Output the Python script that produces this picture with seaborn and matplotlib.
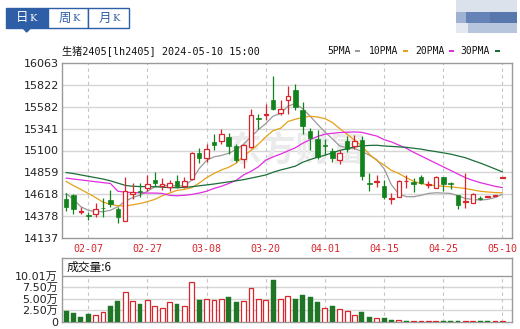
import numpy as np
import pandas as pd
import seaborn as sns
import matplotlib.pyplot as plt
from matplotlib.patches import Rectangle, Polygon

# 日K 数据 (lh2405, 2024-02-02 ~ 2024-05-10)
dates = ['02-02', '02-05', '02-06', '02-07', '02-08', '02-19', '02-20', '02-21', '02-22', '02-23',
         '02-26', '02-27', '02-28', '02-29', '03-01', '03-04', '03-05', '03-06', '03-07', '03-08',
         '03-11', '03-12', '03-13', '03-14', '03-15', '03-18', '03-19', '03-20', '03-21', '03-22',
         '03-25', '03-26', '03-27', '03-28', '03-29', '04-01', '04-02', '04-03', '04-08', '04-09',
         '04-10', '04-11', '04-12', '04-15', '04-16', '04-17', '04-18', '04-19', '04-22', '04-23',
         '04-24', '04-25', '04-26', '04-29', '04-30', '05-06', '05-07', '05-08', '05-09', '05-10']
open_ = [14563, 14607, 14422, 14387, 14398, 14465, 14552, 14453, 14321, 14618,
         14655, 14688, 14773, 14710, 14699, 14765, 14710, 14784, 15067, 15019,
         15191, 15202, 15250, 15147, 15011, 15140, 15460, 15489, 15654, 15515,
         15662, 15765, 15551, 15313, 15232, 15166, 15092, 14993, 15202, 15147,
         15221, 14743, 14751, 14706, 14565, 14589, 14758, 14754, 14809, 14722,
         14688, 14802, 14736, 14607, 14530, 14523, 14574, 14590, 14600, 14800]
high = [14633, 14615, 14479, 14424, 14523, 14570, 14662, 14479, 14802, 14736,
        14743, 14824, 14868, 14791, 14773, 14828, 14809, 15085, 15133, 15177,
        15287, 15342, 15294, 15169, 15177, 15563, 15507, 15618, 15925, 15654,
        15809, 15831, 15636, 15353, 15331, 15232, 15133, 15111, 15265, 15269,
        15258, 14846, 14828, 14773, 14626, 14773, 14828, 14791, 14828, 14765,
        14817, 14809, 14754, 14607, 14846, 14626, 14596, 14600, 14607, 14806]
low = [14435, 14394, 14398, 14332, 14368, 14362, 14479, 14295, 14321, 14560,
       14581, 14655, 14706, 14662, 14655, 14681, 14681, 14773, 14964, 14975,
       15103, 15177, 15059, 14975, 14909, 15133, 15342, 15441, 15544, 15489,
       15507, 15544, 15287, 15111, 15011, 15048, 14975, 14949, 15085, 15121,
       14773, 14655, 14699, 14560, 14504, 14581, 14688, 14637, 14729, 14688,
       14681, 14651, 14670, 14449, 14460, 14515, 14552, 14590, 14600, 14800]
close = [14479, 14449, 14428, 14376, 14453, 14460, 14504, 14368, 14655, 14637,
         14637, 14729, 14743, 14732, 14743, 14710, 14765, 15067, 15019, 15122,
         15166, 15287, 15147, 15000, 15158, 15496, 15449, 15507, 15555, 15563,
         15698, 15581, 15368, 15239, 15030, 15147, 15019, 15067, 15114, 15206,
         14817, 14732, 14762, 14581, 14575, 14762, 14765, 14725, 14736, 14729,
         14802, 14729, 14725, 14497, 14537, 14615, 14567, 14596, 14607, 14806]

# 成交量 (万手) 及颜色
volume = [2.29, 1.93, 1.00, 1.64, 1.43, 2.07, 3.36, 4.43, 6.36, 4.43,
          3.79, 4.64, 3.36, 2.93, 4.36, 3.79, 3.36, 8.71, 4.64, 4.86,
          4.64, 4.86, 5.29, 4.21, 4.43, 7.21, 4.86, 4.64, 8.93, 5.00,
          5.50, 4.86, 5.71, 5.29, 4.21, 2.93, 3.36, 2.71, 2.29, 1.43,
          2.07, 1.00, 0.79, 0.79, 0.43, 0.36, 0.15, 0.15, 0.15, 0.12,
          0.15, 0.15, 0.12, 0.15, 0.15, 0.15, 0.12, 0.10, 0.10, 0.15]
vol_dir = ['d', 'd', 'd', 'd', 'u', 'u', 'd', 'd', 'u', 'u',
           'd', 'u', 'u', 'u', 'u', 'd', 'u', 'u', 'd', 'u',
           'u', 'u', 'd', 'd', 'u', 'u', 'u', 'u', 'd', 'u',
           'u', 'd', 'd', 'd', 'd', 'u', 'd', 'u', 'u', 'u',
           'd', 'd', 'u', 'd', 'd', 'u', 'd', 'u', 'u', 'u',
           'u', 'd', 'd', 'd', 'u', 'u', 'd', 'd', 'u', 'u']

# 均线 (读自图中)
ma5 = [14626, 14560, 14479, 14440, 14424, 14424, 14440, 14479, 14540, 14580,
       14607, 14650, 14699, 14710, 14717, 14706, 14710, 14773, 14900, 14990,
       15030, 15045, 15070, 15110, 15169, 15250, 15330, 15397, 15480, 15507,
       15590, 15618, 15560, 15480, 15390, 15305, 15230, 15150, 15130, 15122,
       15090, 15048, 15000, 14900, 14720, 14620, 14590, 14589, 14605, 14626,
       14633, 14630, 14626, 14600, 14570, 14560, 14552, 14560, 14580, 14618]
ma10 = [14760, 14712, 14670, 14626, 14580, 14530, 14505, 14490, 14486, 14500,
        14515, 14535, 14560, 14600, 14630, 14660, 14670, 14690, 14740, 14800,
        14846, 14885, 14915, 14960, 15040, 15100, 15170, 15250, 15320, 15345,
        15420, 15445, 15465, 15478, 15470, 15452, 15410, 15342, 15280, 15215,
        15150, 15060, 14990, 14940, 14880, 14846, 14800, 14760, 14735, 14720,
        14712, 14705, 14699, 14690, 14680, 14665, 14650, 14642, 14636, 14633]
ma20 = [14795, 14785, 14775, 14765, 14755, 14745, 14736, 14650, 14640, 14635,
        14633, 14630, 14630, 14626, 14605, 14600, 14605, 14615, 14630, 14650,
        14681, 14705, 14736, 14770, 14830, 14870, 14920, 14993, 15030, 15060,
        15095, 15130, 15180, 15220, 15255, 15280, 15290, 15298, 15302, 15305,
        15300, 15280, 15260, 15220, 15195, 15160, 15125, 15080, 15040, 15000,
        14960, 14920, 14880, 14840, 14800, 14770, 14745, 14725, 14705, 14690]
ma30 = [14857, 14845, 14830, 14815, 14800, 14785, 14765, 14740, 14715, 14705,
        14702, 14700, 14700, 14695, 14690, 14690, 14692, 14700, 14710, 14720,
        14730, 14742, 14754, 14765, 14778, 14795, 14812, 14830, 14860, 14885,
        14905, 14927, 14970, 15000, 15025, 15048, 15075, 15100, 15120, 15140,
        15150, 15156, 15158, 15150, 15145, 15140, 15135, 15125, 15115, 15100,
        15088, 15074, 15060, 15040, 15020, 14990, 14962, 14930, 14897, 14864]

price_ticks = [14137, 14378, 14618, 14859, 15100, 15341, 15582, 15822, 16063]
date_ticks = ['02-07', '02-27', '03-08', '03-20', '04-01', '04-15', '04-25', '05-10']
vol_ticks = [0, 2.5, 5.0, 7.5, 10.01]
vol_labels = ['0', '2.50万', '5.00万', '7.50万', '10.01万']

RED = '#d8262c'
GREEN = '#13821d'
BLUE = '#2e5ea6'
GRID = '#d6d6d6'
BORDER = '#9a9a9a'

sns.set_style('white')
plt.rcParams['font.family'] = ['DejaVu Sans', 'Noto Sans CJK SC']
MONO = ['DejaVu Sans Mono', 'Noto Sans CJK SC']

W, H = 520, 329
fig = plt.figure(figsize=(W / 100, H / 100), dpi=100)

# 顶部装饰层 (像素坐标)
deco = fig.add_axes([0, 0, 1, 1])
deco.set_xlim(0, W)
deco.set_ylim(H, 0)
deco.axis('off')

# 日K / 周K / 月K 选项卡
tabs = [('日', 6, 48.3), ('周', 48.3, 88.3), ('月', 88.3, 129.3)]
for i, (name, x0, x1) in enumerate(tabs):
    sel = i == 0
    deco.add_patch(Rectangle((x0, 7.5), x1 - x0, 20, facecolor=BLUE if sel else 'white',
                             edgecolor=BLUE, lw=1))
    tc = 'white' if sel else BLUE
    deco.text(x0 + 16.5, 18, name, color=tc, fontsize=9, ha='center', va='center',
              family='Noto Sans CJK SC')
    deco.text(x0 + 27.5, 18.5, 'K', color=tc, fontsize=7, ha='center', va='center',
              family='DejaVu Serif')
deco.add_patch(Polygon([[22.5, 27.5], [31, 27.5], [26.7, 32]], closed=True, color=BLUE))

# 右上角模糊图块
for (x0, y0, w, h, c) in [(456, 0, 61, 12, '#dce2ec'), (456, 12, 10, 11, '#9fb2d1'),
                          (466, 12, 24, 11, '#6583b6'), (490, 12, 27, 11, '#5877ad'),
                          (456, 23, 12, 10, '#e4e9f1'), (468, 23, 49, 10, '#b8c6dd')]:
    deco.add_patch(Rectangle((x0, y0), w, h, facecolor=c, edgecolor='none'))

# 标题与均线图例
deco.text(62, 51, '生猪2405[lh2405] 2024-05-10 15:00', fontsize=7.3, family=MONO,
          color='#111111', va='center', ha='left')
legend_items = [('5PMA', 327.7, 354.5, '#9a9a9a'), ('10PMA', 369.3, 402.5, '#e6a118'),
                ('20PMA', 415.0, 448.5, '#e02ee0'), ('30PMA', 460.7, 494.5, '#1b6e3a')]
for label, tx, sx, c in legend_items:
    deco.text(tx, 51.5, label, fontsize=7, family=MONO, color='#111111', va='center', ha='left')
    deco.add_patch(Rectangle((sx, 50), 5, 2.2, facecolor=c, edgecolor='none'))

# 主图
n = len(dates)
idx = np.arange(n)
xlim = (-0.55, 60.3)
ax = fig.add_axes([62 / W, 1 - 237.7 / H, 450 / W, 174.4 / H])
ax.set_xlim(*xlim)
ax.set_ylim(price_ticks[0], price_ticks[-1])

tick_pos = [dates.index(d) for d in date_ticks]
for y in price_ticks[1:-1]:
    ax.axhline(y, color=GRID, lw=1, zorder=0)
for p in tick_pos:
    ax.axvline(p, color='#c4c4c4', lw=0.8, ls=(0, (3, 3)), zorder=0)

# 水印
ax.text(0.52, 0.5, '东方财富', transform=ax.transAxes, fontsize=25, fontweight='bold',
        color='#ebebeb', ha='center', va='center', family='Noto Sans CJK SC', zorder=0.5)

# 均线
ma_df = pd.DataFrame({'idx': np.tile(idx, 4),
                      'value': ma5 + ma10 + ma20 + ma30,
                      'ma': ['5PMA'] * n + ['10PMA'] * n + ['20PMA'] * n + ['30PMA'] * n})
sns.lineplot(data=ma_df, x='idx', y='value', hue='ma', ax=ax, legend=False, lw=0.9,
             palette={'5PMA': '#9a9a9a', '10PMA': '#e6a118', '20PMA': '#e02ee0', '30PMA': '#1b6e3a'},
             zorder=2)

# K线
o = np.array(open_, float)
c = np.array(close, float)
up = c >= o
col = np.where(up, RED, GREEN)
ax.vlines(idx, low, high, colors=col, lw=0.9, zorder=3)
body_lo = np.minimum(o, c)
body_h = np.maximum(np.abs(c - o), 7)
ax.bar(idx[up], body_h[up], bottom=body_lo[up], width=0.6, facecolor='white',
       edgecolor=RED, lw=0.9, zorder=4)
ax.bar(idx[~up], body_h[~up], bottom=body_lo[~up], width=0.62, facecolor=GREEN,
       edgecolor=GREEN, lw=0.5, zorder=4)

ax.set_yticks(price_ticks)
ax.set_yticklabels([str(v) for v in price_ticks])
ax.set_xticks(tick_pos)
ax.set_xticklabels(date_ticks, family=MONO, color=RED, fontsize=7.2)
ax.tick_params(axis='y', length=0, pad=2.2, labelsize=8, labelcolor='#222222')
ax.tick_params(axis='x', length=0, pad=4.5)
ax.set_xlabel('')
ax.set_ylabel('')
for s in ax.spines.values():
    s.set_visible(True)
    s.set_color(BORDER)
    s.set_linewidth(1)

# 成交量
vtop = 13.74
axv = fig.add_axes([62 / W, 1 - 321.7 / H, 450 / W, 63.4 / H])
vol_df = pd.DataFrame({'idx': idx, 'vol': volume, 'dir': vol_dir})
sns.barplot(data=vol_df, x='idx', y='vol', hue='dir', palette={'u': RED, 'd': GREEN},
            native_scale=True, dodge=False, width=0.66, legend=False, errorbar=None,
            ax=axv, zorder=3)
for bar in axv.patches:
    fc = bar.get_facecolor()
    if fc[0] > 0.6:
        bar.set_facecolor('white')
        bar.set_edgecolor(RED)
        bar.set_linewidth(0.9)
    else:
        bar.set_edgecolor(GREEN)
        bar.set_linewidth(0.3)
axv.set_xlim(*xlim)
axv.set_ylim(0, vtop)
for y in [2.5, 5.0, 7.5]:
    axv.axhline(y, color=GRID, lw=1, zorder=0)
axv.axhline(10.01, color=BORDER, lw=1, zorder=1)
for p in tick_pos:
    axv.axvline(p, ymax=10.01 / vtop, color='#c4c4c4', lw=0.8, ls=(0, (3, 3)), zorder=0)
axv.text(0.005, 11.85, '成交量:6', fontsize=8.5, color='#111111', va='center', ha='left',
         family=['Noto Sans CJK SC', 'DejaVu Sans'])
axv.set_yticks(vol_ticks)
axv.set_yticklabels(vol_labels)
axv.set_xticks([])
axv.tick_params(axis='y', length=0, pad=3, labelsize=8, labelcolor='#222222')
axv.set_xlabel('')
axv.set_ylabel('')
for s in axv.spines.values():
    s.set_visible(True)
    s.set_color(BORDER)
    s.set_linewidth(1)

plt.savefig('out.png', dpi=100)
